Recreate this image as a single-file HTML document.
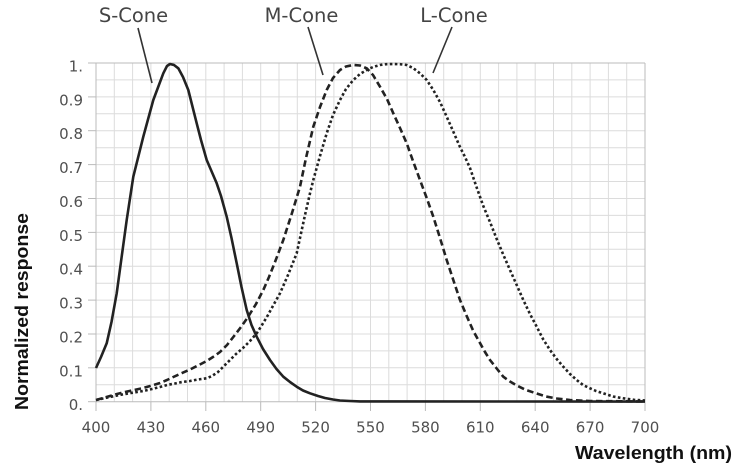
<!DOCTYPE html>
<html><head><meta charset="utf-8"><style>
html,body{margin:0;padding:0;background:#fff;}
svg{display:block;}
text{font-family:"DejaVu Sans","Liberation Sans",sans-serif;}
.t{font-family:"Liberation Sans",sans-serif;}
</style></head><body>
<svg width="747" height="467" viewBox="0 0 747 467" xmlns="http://www.w3.org/2000/svg">
<g stroke="#dcdcdc" stroke-width="1">
<line x1="96" y1="63" x2="96" y2="402"/><line x1="114.3" y1="63" x2="114.3" y2="402"/><line x1="132.6" y1="63" x2="132.6" y2="402"/><line x1="150.9" y1="63" x2="150.9" y2="402"/><line x1="169.2" y1="63" x2="169.2" y2="402"/><line x1="187.5" y1="63" x2="187.5" y2="402"/><line x1="205.8" y1="63" x2="205.8" y2="402"/><line x1="224.1" y1="63" x2="224.1" y2="402"/><line x1="242.4" y1="63" x2="242.4" y2="402"/><line x1="260.7" y1="63" x2="260.7" y2="402"/><line x1="279" y1="63" x2="279" y2="402"/><line x1="297.3" y1="63" x2="297.3" y2="402"/><line x1="315.6" y1="63" x2="315.6" y2="402"/><line x1="333.9" y1="63" x2="333.9" y2="402"/><line x1="352.2" y1="63" x2="352.2" y2="402"/><line x1="370.5" y1="63" x2="370.5" y2="402"/><line x1="388.8" y1="63" x2="388.8" y2="402"/><line x1="407.1" y1="63" x2="407.1" y2="402"/><line x1="425.4" y1="63" x2="425.4" y2="402"/><line x1="443.7" y1="63" x2="443.7" y2="402"/><line x1="462" y1="63" x2="462" y2="402"/><line x1="480.3" y1="63" x2="480.3" y2="402"/><line x1="498.6" y1="63" x2="498.6" y2="402"/><line x1="516.9" y1="63" x2="516.9" y2="402"/><line x1="535.2" y1="63" x2="535.2" y2="402"/><line x1="553.5" y1="63" x2="553.5" y2="402"/><line x1="571.8" y1="63" x2="571.8" y2="402"/><line x1="590.1" y1="63" x2="590.1" y2="402"/><line x1="608.4" y1="63" x2="608.4" y2="402"/><line x1="626.7" y1="63" x2="626.7" y2="402"/><line x1="645" y1="63" x2="645" y2="402"/>
<line x1="96" y1="63" x2="645" y2="63"/><line x1="96" y1="79.9" x2="645" y2="79.9"/><line x1="96" y1="96.9" x2="645" y2="96.9"/><line x1="96" y1="113.8" x2="645" y2="113.8"/><line x1="96" y1="130.7" x2="645" y2="130.7"/><line x1="96" y1="147.7" x2="645" y2="147.7"/><line x1="96" y1="164.6" x2="645" y2="164.6"/><line x1="96" y1="181.5" x2="645" y2="181.5"/><line x1="96" y1="198.5" x2="645" y2="198.5"/><line x1="96" y1="215.4" x2="645" y2="215.4"/><line x1="96" y1="232.4" x2="645" y2="232.4"/><line x1="96" y1="249.3" x2="645" y2="249.3"/><line x1="96" y1="266.2" x2="645" y2="266.2"/><line x1="96" y1="283.2" x2="645" y2="283.2"/><line x1="96" y1="300.1" x2="645" y2="300.1"/><line x1="96" y1="317" x2="645" y2="317"/><line x1="96" y1="334" x2="645" y2="334"/><line x1="96" y1="350.9" x2="645" y2="350.9"/><line x1="96" y1="367.8" x2="645" y2="367.8"/><line x1="96" y1="384.8" x2="645" y2="384.8"/>
</g>
<g stroke="#bbb" stroke-width="1">
<line x1="96" y1="63" x2="645" y2="63"/><line x1="645" y1="63" x2="645" y2="402"/><line x1="96" y1="63" x2="96" y2="402"/><line x1="96" y1="401.7" x2="645" y2="401.7"/>
<line x1="88" y1="63" x2="96" y2="63"/><line x1="88" y1="96.9" x2="96" y2="96.9"/><line x1="88" y1="130.7" x2="96" y2="130.7"/><line x1="88" y1="164.6" x2="96" y2="164.6"/><line x1="88" y1="198.5" x2="96" y2="198.5"/><line x1="88" y1="232.4" x2="96" y2="232.4"/><line x1="88" y1="266.2" x2="96" y2="266.2"/><line x1="88" y1="300.1" x2="96" y2="300.1"/><line x1="88" y1="334" x2="96" y2="334"/><line x1="88" y1="367.8" x2="96" y2="367.8"/><line x1="88" y1="401.7" x2="96" y2="401.7"/>
<line x1="96" y1="402" x2="96" y2="411"/><line x1="150.9" y1="402" x2="150.9" y2="411"/><line x1="205.8" y1="402" x2="205.8" y2="411"/><line x1="260.7" y1="402" x2="260.7" y2="411"/><line x1="315.6" y1="402" x2="315.6" y2="411"/><line x1="370.5" y1="402" x2="370.5" y2="411"/><line x1="425.4" y1="402" x2="425.4" y2="411"/><line x1="480.3" y1="402" x2="480.3" y2="411"/><line x1="535.2" y1="402" x2="535.2" y2="411"/><line x1="590.1" y1="402" x2="590.1" y2="411"/><line x1="645" y1="402" x2="645" y2="411"/>
</g>
<g font-size="15" fill="#505050" text-anchor="end">
<text x="83" y="71.5">1.</text><text x="83" y="105.4">0.9</text><text x="83" y="139.2">0.8</text><text x="83" y="173.1">0.7</text><text x="83" y="207">0.6</text><text x="83" y="240.9">0.5</text><text x="83" y="274.7">0.4</text><text x="83" y="308.6">0.3</text><text x="83" y="342.5">0.2</text><text x="83" y="376.3">0.1</text><text x="83" y="410.2">0.</text>
</g>
<g font-size="15" fill="#505050" text-anchor="middle">
<text x="96" y="432.5">400</text><text x="150.9" y="432.5">430</text><text x="205.8" y="432.5">460</text><text x="260.7" y="432.5">490</text><text x="315.6" y="432.5">520</text><text x="370.5" y="432.5">550</text><text x="425.4" y="432.5">580</text><text x="480.3" y="432.5">610</text><text x="535.2" y="432.5">640</text><text x="590.1" y="432.5">670</text><text x="645" y="432.5">700</text>
</g>
<text class="t" x="22" y="311.5" transform="rotate(-90 22 311.5)" font-size="18" font-weight="bold" fill="#111" text-anchor="middle" dominant-baseline="central" textLength="197" lengthAdjust="spacingAndGlyphs">Normalized response</text>
<text class="t" x="575" y="459" font-size="18" font-weight="bold" fill="#111" textLength="157" lengthAdjust="spacingAndGlyphs">Wavelength (nm)</text>
<g font-size="19.5" fill="#444" text-anchor="middle">
<text x="133.5" y="22">S-Cone</text><text x="301.5" y="22">M-Cone</text><text x="454" y="22">L-Cone</text>
</g>
<g stroke="#333" stroke-width="1.6">
<line x1="138" y1="28" x2="152" y2="83"/><line x1="308" y1="27" x2="323" y2="75"/><line x1="452" y1="27" x2="433" y2="73"/>
</g>
<g fill="none" stroke="#222" stroke-width="2.6" stroke-linejoin="round">
<polyline points="96,368 101,357 106.7,343.3 111.5,322 116.7,293.3 121.5,258 126.7,220 133.3,176.7 143.3,136.7 153.3,100 163.3,73.3 167,66 170,64 174,65 178.3,68.3 183,77 188.3,90 196.7,123.3 201,140 206.7,160 211,170 216.7,183.3 221,196 226.7,216.7 231.5,238 236.7,263.3 241.5,287 246.7,310 251.5,325 256.7,336.7 263,349 270,360 276.5,369 283.3,376.7 290,382 296.7,386.7 303,390.5 310,393.3 318,396 325,398 333,399.5 340,400.5 350,401 360,401.4 645,401.6"/>
<polyline stroke-dasharray="6.5,3.5" points="96,400 103,398 110,396 117,394 125,392 134,390 143.3,388 152,385.5 160,383 167,380 173.3,377 181,373.5 190,369.5 198,365.5 206.7,361 213,357 220,352 227,345 233.3,337 241,327 248,317 256,304 263.3,290 269,277 275,262 283.3,240 292,213 300,186.7 306,158 313.3,126.7 320,107 326.7,90 333,78 340,70 346,66.5 353.3,65 360,65.5 366.7,68.3 373,75 380,86.7 387,99 393.3,113.3 400,128 406.7,143.3 413,161 420,180 426.7,198 433.3,216.7 440,238 446.7,260 453.3,280 460,300 466.7,316 473.3,331 480,343 485,352 490,360 496.7,368.5 503.3,376.7 510,381.5 516.7,385.5 526,390 536.7,393.5 546,396.5 556.7,398.5 570,400 590,401 645,401.5"/>
<polyline stroke-dasharray="2.6,2.4" points="96,400 103,398.5 110,397 117,395.5 125,394 134,392.5 143.3,391 152,389 160,387 167,385 175,383.5 182,382 190,381 198,379.5 206.7,378.3 212,376 218,372 224,366 230,360 236,354 243,348 250,341 256.7,333.3 262,325 268,315 274,304 280,293.3 288,275 296.7,253.3 300,238 305,215 310,193.3 313.3,180 320,156 326.7,133.3 333,115 340,100 346,89 353.3,80 360,74 366.7,70 373,67 380,65 386,64.2 393.3,64 400,64.2 406.7,65 413,68 420,73.3 426.7,80 433.3,90 440,102 446.7,116.7 453,131 460,147 465,157 470,168 476.5,187 483.3,206 490,222 496.7,239 503,254 510,270 516.7,285 523.3,300 530,314 536.7,326.7 543,339 550,350 556.7,359 563.3,366.7 570,374 576.7,380 583,385 590,388.3 596,391 603.3,393.3 613,396.5 623.3,398.3 634,399.8 645,400.5"/>
</g>
</svg>
</body></html>
